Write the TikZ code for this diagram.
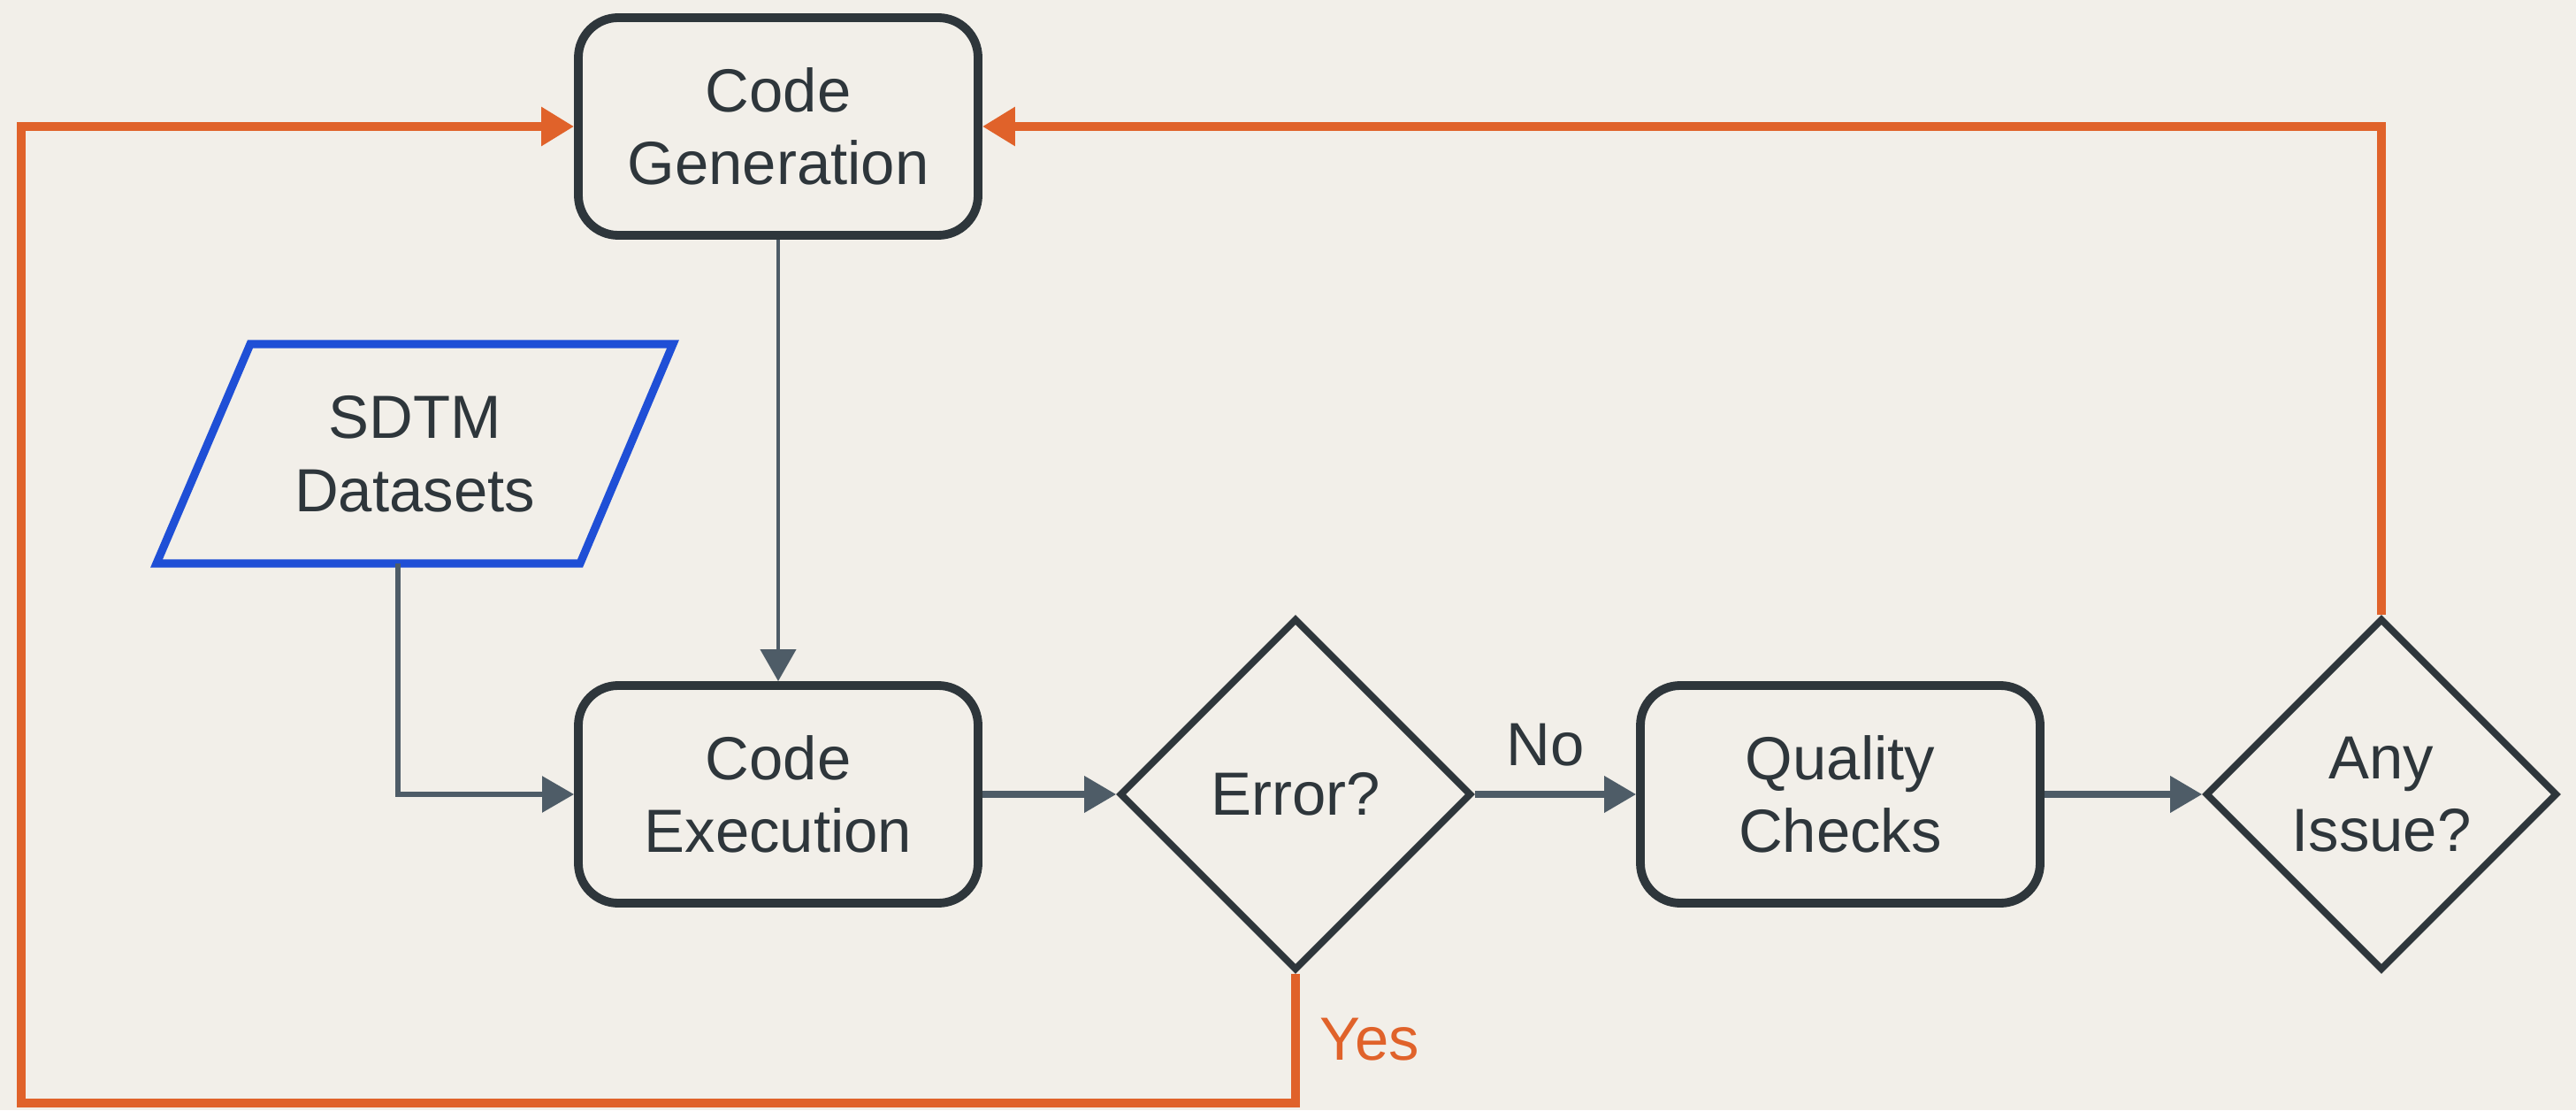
\documentclass[tikz,border=0pt]{standalone}
\usepackage{fontspec}
\setmainfont{Liberation Sans}
\usepackage{tikz}
\usetikzlibrary{positioning, shapes.geometric, arrows.meta, calc}
\definecolor{paper}{HTML}{F2EFE9}
\definecolor{ink}{HTML}{2E363B}
\definecolor{slate}{HTML}{4E5C67}
\definecolor{loop}{HTML}{E0622A}
\definecolor{datablue}{HTML}{1F4FD6}

\begin{document}
\begin{tikzpicture}[
  every node/.style={font=\fontsize{19.6}{23.5}\selectfont, text=ink},
  box/.style={draw=ink, line width=2.8pt, rounded corners=0.45cm, minimum width=4.52cm,
    minimum height=2.46cm, align=center},
  decision/.style={draw=ink, line width=2.2pt, diamond, minimum width=3.98cm,
    minimum height=3.98cm, inner sep=0pt, align=center},
  datain/.style={draw=datablue, line width=2.6pt, line join=miter},
  flow/.style={draw=slate, line width=2pt, -{Triangle[length=0.36cm, width=0.4cm]}},
  thinflow/.style={flow, line width=1.2pt},
  back/.style={draw=loop, line width=2.6pt, -{Triangle[length=0.37cm, width=0.42cm]}},
]

% Background
\fill[paper] (0,0) rectangle (29.13,12.55);

% Steps
\node[box] (gen) at (8.80,11.12) {Code\\Generation};
\node[align=center] (sdtm) at (4.69,7.42) {SDTM\\Datasets};
\node[box] (exec) at (8.80,3.57) {Code\\Execution};
\node[decision] (err) at (14.65,3.57) {Error?};
\node[box] (qc) at (20.81,3.57) {Quality\\Checks};
\node[decision] (issue) at (26.93,3.57) {Any\\Issue?};

% Input data (slanted box round the sdtm label)
\draw[datain] ($(sdtm)+(-2.92,-1.24)$) -- ($(sdtm)+(1.87,-1.24)$)
  -- ($(sdtm)+(2.92,1.24)$) -- ($(sdtm)+(-1.86,1.24)$) -- cycle;
\coordinate (sdtmfoot) at ($(sdtm)+(-0.19,-1.24)$);

% Main flow
\draw[thinflow] (gen) -- (exec);
\draw[flow, line width=1.6pt] (sdtmfoot) |- (exec.west);
\draw[flow] (exec) -- (err);
\draw[flow] (err) -- node[above=0.17cm, xshift=-0.11cm] (nolbl) {No} (qc);
\draw[flow] (qc) -- (issue);

% Loops back to generation
\coordinate (lowleft) at (0.24,0.08);
\draw[back] (err.south) |- (lowleft) |- (gen.west);
\draw[back] (issue.north) |- (gen.east);
\node[anchor=base west, text=loop] (yeslbl) at (14.80,0.57) {Yes};
\end{tikzpicture}
\end{document}
